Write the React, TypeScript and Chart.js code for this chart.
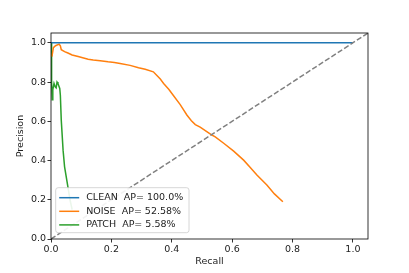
import React, { useEffect, useRef } from "react";
import { Chart, registerables } from "chart.js";

Chart.register(...registerables);

// ---- data ----
const seriesLabels = ["CLEAN  AP= 100.0%", "NOISE  AP= 52.58%", "PATCH  AP= 5.58%"];
const seriesColors = ["#1f77b4", "#ff7f0e", "#2ca02c"];

const cleanRecall = [0, 1.0];
const cleanPrecision = [1.0, 1.0];

const noiseRecall = [
  0.003, 0.008, 0.015, 0.027, 0.031, 0.034, 0.045, 0.056, 0.07, 0.09, 0.105, 0.123, 0.14, 0.163,
  0.189, 0.21, 0.229, 0.262, 0.29, 0.312, 0.339, 0.35, 0.362, 0.373, 0.39, 0.406, 0.428, 0.45,
  0.465, 0.478, 0.494, 0.516, 0.533, 0.544, 0.572, 0.605, 0.638, 0.66, 0.682, 0.715, 0.74, 0.768,
];
const noisePrecision = [
  0.93, 0.975, 0.985, 0.993, 0.985, 0.965, 0.955, 0.948, 0.938, 0.93, 0.924, 0.916, 0.912, 0.908,
  0.903, 0.9, 0.895, 0.885, 0.873, 0.865, 0.852, 0.835, 0.815, 0.793, 0.763, 0.73, 0.685, 0.632,
  0.603, 0.583, 0.57, 0.547, 0.53, 0.521, 0.488, 0.448, 0.402, 0.365, 0.326, 0.275, 0.23, 0.19,
];

const patchRecall = [
  0, 0.002, 0.004, 0.006, 0.01, 0.014, 0.017, 0.02, 0.023, 0.026, 0.029, 0.031, 0.034, 0.04, 0.045,
  0.056, 0.063, 0.07,
];
const patchPrecision = [
  1.0, 0.8, 0.71, 0.76, 0.793, 0.775, 0.77, 0.8, 0.793, 0.78, 0.767, 0.733, 0.606, 0.453, 0.368,
  0.266, 0.2, 0.15,
];

const diagonal = [0, 1.05];
const axisTicks = [0, 0.2, 0.4, 0.6, 0.8, 1.0];

const FONT = "'DejaVu Sans', sans-serif";
const FS = 9.5;

function pts(xs: number[], ys: number[]) {
  return xs.map((x, i) => ({ x, y: ys[i] }));
}

const framePlugin = {
  id: "frameAndLegend",
  afterDatasetsDraw(chart: any) {
    const ctx = chart.ctx as CanvasRenderingContext2D;
    const { left, right, top, bottom } = chart.chartArea;
    ctx.save();
    // frame
    ctx.strokeStyle = "#000";
    ctx.lineWidth = 0.8;
    ctx.strokeRect(left, top, right - left, bottom - top);

    // legend
    const bx = left + 4.7;
    const bw = 133.3;
    const bh = 45;
    const by = bottom - 6.3 - bh;
    const r = 2.5;
    ctx.beginPath();
    ctx.moveTo(bx + r, by);
    ctx.lineTo(bx + bw - r, by);
    ctx.quadraticCurveTo(bx + bw, by, bx + bw, by + r);
    ctx.lineTo(bx + bw, by + bh - r);
    ctx.quadraticCurveTo(bx + bw, by + bh, bx + bw - r, by + bh);
    ctx.lineTo(bx + r, by + bh);
    ctx.quadraticCurveTo(bx, by + bh, bx, by + bh - r);
    ctx.lineTo(bx, by + r);
    ctx.quadraticCurveTo(bx, by, bx + r, by);
    ctx.closePath();
    ctx.fillStyle = "rgba(255,255,255,0.9)";
    ctx.fill();
    ctx.strokeStyle = "#cccccc";
    ctx.lineWidth = 0.8;
    ctx.stroke();

    ctx.font = `${FS}px ${FONT}`;
    ctx.textBaseline = "middle";
    ctx.textAlign = "left";
    seriesLabels.forEach((lab, i) => {
      const y = by + 10 + i * 13.6;
      ctx.strokeStyle = seriesColors[i];
      ctx.lineWidth = 1.5;
      ctx.beginPath();
      ctx.moveTo(bx + 3.5, y);
      ctx.lineTo(bx + 23.5, y);
      ctx.stroke();
      ctx.fillStyle = "#222";
      ctx.fillText(lab, bx + 30.5, y);
    });
    ctx.restore();
  },
};

export default function App() {
  const ref = useRef<HTMLCanvasElement | null>(null);

  useEffect(() => {
    if (!ref.current) return;
    const tickFilter = (scale: any) => {
      scale.ticks = axisTicks.map((v) => ({ value: v }));
    };
    const chart = new Chart(ref.current, {
      type: "scatter",
      data: {
        datasets: [
          {
            label: "diag",
            data: pts(diagonal, diagonal),
            showLine: true,
            borderColor: "#808080",
            borderWidth: 1.5,
            borderDash: [5.3, 2.3],
            pointRadius: 0,
          },
          {
            label: seriesLabels[0],
            data: pts(cleanRecall, cleanPrecision),
            showLine: true,
            borderColor: seriesColors[0],
            borderWidth: 1.5,
            pointRadius: 0,
          },
          {
            label: seriesLabels[1],
            data: pts(noiseRecall, noisePrecision),
            showLine: true,
            borderColor: seriesColors[1],
            borderWidth: 1.5,
            pointRadius: 0,
          },
          {
            label: seriesLabels[2],
            data: pts(patchRecall, patchPrecision),
            showLine: true,
            borderColor: seriesColors[2],
            borderWidth: 1.5,
            pointRadius: 0,
          },
        ],
      },
      options: {
        animation: false,
        responsive: true,
        maintainAspectRatio: false,
        layout: { padding: { top: 33, right: 41, left: 0, bottom: 0 } },
        plugins: { legend: { display: false }, tooltip: { enabled: false } },
        scales: {
          x: {
            type: "linear",
            min: 0,
            max: 1.05,
            afterBuildTicks: tickFilter,
            afterFit: (s: any) => {
              s.height = 34;
            },
            border: { display: false },
            grid: {
              drawOnChartArea: false,
              drawTicks: true,
              tickLength: 3.5,
              tickColor: "#000",
              tickWidth: 0.8,
            },
            ticks: {
              color: "#222",
              font: { family: FONT, size: FS },
              padding: 1,
              maxRotation: 0,
              autoSkip: false,
              callback: (v: any) => Number(v).toFixed(1),
            },
            title: {
              display: true,
              text: "Recall",
              color: "#222",
              font: { family: FONT, size: FS },
              padding: { top: 0, bottom: 5.6 },
            },
          },
          y: {
            type: "linear",
            min: 0,
            max: 1.05,
            afterBuildTicks: tickFilter,
            afterFit: (s: any) => {
              s.width = 51;
            },
            border: { display: false },
            grid: {
              drawOnChartArea: false,
              drawTicks: true,
              tickLength: 3.5,
              tickColor: "#000",
              tickWidth: 0.8,
            },
            ticks: {
              color: "#222",
              font: { family: FONT, size: FS },
              padding: 1.5,
              autoSkip: false,
              callback: (v: any) => Number(v).toFixed(1),
            },
            title: {
              display: true,
              text: "Precision",
              color: "#222",
              font: { family: FONT, size: FS },
              padding: { top: 15, bottom: 0 },
            },
          },
        },
      },
      plugins: [framePlugin],
    });
    return () => chart.destroy();
  }, []);

  return (
    <div style={{ position: "fixed", left: 0, top: 0, width: 409, height: 273, background: "#fff" }}>
      <canvas ref={ref} />
    </div>
  );
}
